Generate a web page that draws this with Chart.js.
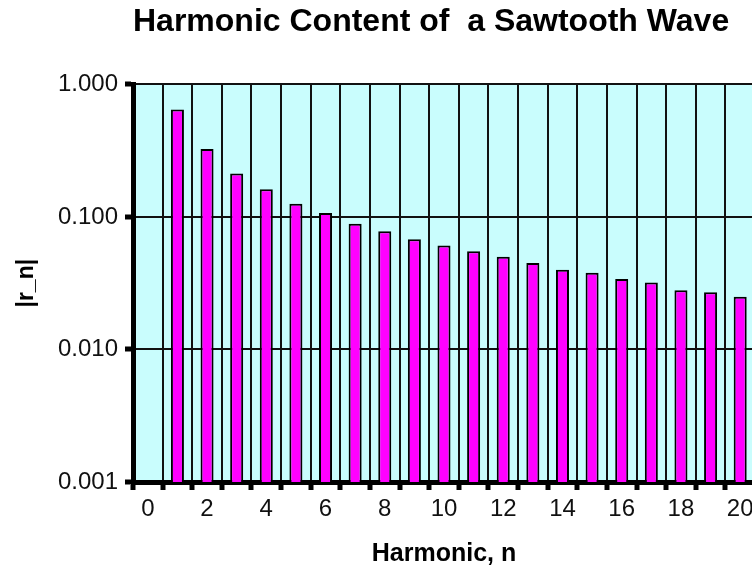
<!DOCTYPE html>
<html>
<head>
<meta charset="utf-8">
<script src="https://cdn.jsdelivr.net/npm/chart.js@4.4.1/dist/chart.umd.min.js"></script>
<style>
  html, body { margin: 0; padding: 0; background: #fff; overflow: hidden; }
  #wrap { width: 760px; height: 569px; }
</style>
</head>
<body>
<div id="wrap"><canvas id="chart" width="760" height="569"></canvas></div>
<script>
// harmonic number on the x axis, 0..20 (no bar at 0)
var harmonics = ["0","1","2","3","4","5","6","7","8","9","10","11","12","13","14","15","16","17","18","19","20"];
// |r_n|
var magnitudes = [null, 0.647, 0.325, 0.213, 0.162, 0.126, 0.107, 0.089, 0.078, 0.068, 0.061,
                  0.055, 0.050, 0.045, 0.040, 0.038, 0.034, 0.032, 0.028, 0.027, 0.025];
var yTicks = [0.001, 0.01, 0.1, 1];

var FONT = "'Liberation Sans', Arial, sans-serif";

// cyan plot background
var plotBg = {
  id: 'plotBg',
  beforeDraw: function (chart) {
    var a = chart.chartArea, ctx = chart.ctx;
    ctx.save();
    ctx.fillStyle = '#c9fdfd';
    ctx.fillRect(a.left, a.top, a.right - a.left, a.bottom - a.top);
    ctx.restore();
  }
};

var ctx = document.getElementById('chart');
var chart = new Chart(ctx, {
  type: 'bar',
  plugins: [plotBg],
  data: {
    labels: harmonics,
    datasets: [{
      label: '|r_n|',
      data: magnitudes,
      backgroundColor: '#ff00ff',
      borderColor: '#000',
      borderWidth: 2,
      borderSkipped: 'bottom',
      categoryPercentage: 1.0,
      barPercentage: 0.44
    }]
  },
  options: {
    responsive: false,
    animation: false,
    devicePixelRatio: 1,
    layout: { padding: { left: 0, right: 5, top: 0, bottom: 0 } },
    plugins: {
      legend: { display: false },
      tooltip: { enabled: false },
      title: {
        display: true,
        text: 'Harmonic Content of  a Sawtooth Wave',
        align: 'start',
        fullSize: false,
        color: '#000',
        font: { family: FONT, size: 32, weight: 'bold', lineHeight: 1.2 },
        padding: { top: 3, bottom: 43 }
      }
    },
    scales: {
      x: {
        type: 'category',
        offset: true,
        grid: {
          offset: true,
          color: '#111',
          lineWidth: 2,
          drawTicks: true,
          tickLength: 8,
          tickWidth: 5,
          tickColor: '#000'
        },
        border: { display: true, color: '#000', width: 5 },
        ticks: {
          autoSkip: false,
          maxRotation: 0,
          padding: 5,
          color: '#111',
          font: { family: FONT, size: 24 },
          callback: function (v, i) { return i % 2 === 0 ? harmonics[i] : ''; }
        },
        title: {
          display: true,
          text: 'Harmonic, n',
          color: '#000',
          font: { family: FONT, size: 25, weight: 'bold', lineHeight: 1.2 },
          padding: { top: 0, bottom: 0 }
        },
        afterFit: function (scale) { scale.height = 87; }
      },
      y: {
        type: 'logarithmic',
        min: 0.001,
        max: 1,
        grid: {
          color: '#111',
          lineWidth: 2,
          drawTicks: true,
          tickLength: 8,
          tickWidth: 5,
          tickColor: '#000'
        },
        border: { display: true, color: '#000', width: 5 },
        afterBuildTicks: function (scale) {
          scale.ticks = yTicks.map(function (v) { return { value: v }; });
        },
        ticks: {
          padding: 7,
          color: '#111',
          font: { family: FONT, size: 24 },
          callback: function (v) { return Number(v).toFixed(3); }
        },
        title: {
          display: true,
          text: '|r_n|',
          color: '#000',
          font: { family: FONT, size: 23, weight: 'bold', lineHeight: 1.2 },
          padding: { top: 13, bottom: 0 }
        },
        afterFit: function (scale) { scale.width = 133; }
      }
    }
  }
});
</script>
</body>
</html>
